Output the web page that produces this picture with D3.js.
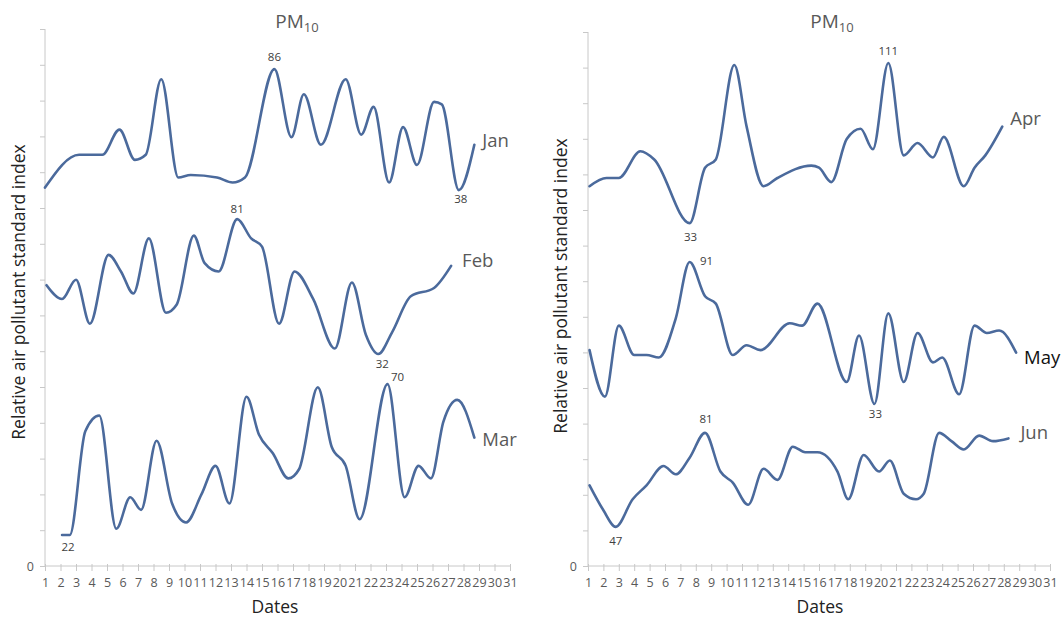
<!DOCTYPE html>
<html>
<head>
<meta charset="utf-8">
<script src="https://cdn.jsdelivr.net/npm/d3@7"></script>
<style>
  html, body { margin: 0; padding: 0; background: #fff; }
  svg { display: block; font-family: "Open Sans", "Lato", sans-serif; }
</style>
</head>
<body>
<svg id="chart" width="1063" height="617"></svg>
<script>
// ---- data: PM10 relative air pollutant standard index, by date ----
const dateTicks = d3.range(1, 32);
const yTickSteps = d3.range(0, 16);

const janDays   = [1.0, 3.2, 4.7, 5.8, 6.8, 7.5, 8.5, 9.6, 10.4, 12.1, 13.1, 13.9, 15.8, 16.9, 17.7, 18.8, 20.4, 21.4, 22.2, 23.2, 24.1, 25.0, 26.1, 26.6, 27.7, 28.7];
const janValues = [39, 52, 52, 62, 50, 52, 82, 43, 44, 43, 41, 43, 86, 59, 76, 56, 82, 60, 71, 41, 63, 48, 73, 72, 38, 56];

const febDays   = [1.1, 2.1, 3.0, 3.9, 5.1, 5.9, 6.7, 7.7, 8.8, 9.5, 10.6, 11.3, 12.2, 13.4, 14.3, 15.0, 16.1, 17.1, 18.3, 19.7, 20.8, 21.7, 22.5, 23.4, 24.6, 26.1, 27.2];
const febValues = [57, 52, 59, 43, 68, 62, 54, 74, 47, 50, 75, 65, 62, 81, 74, 71, 43, 62, 52, 34, 58, 39, 32, 40, 53, 56, 64];

const marDays   = [2.1, 2.6, 3.6, 4.5, 5.6, 6.5, 7.2, 8.2, 9.2, 10.1, 11.1, 12.0, 12.9, 14.0, 14.8, 15.7, 16.7, 17.4, 18.6, 19.5, 20.4, 21.3, 23.1, 24.2, 25.1, 25.9, 26.7, 27.6, 28.7];
const marValues = [22, 22, 55, 60, 24, 34, 30, 52, 32, 26, 35, 44, 32, 66, 54, 48, 40, 43, 69, 50, 44, 27, 70, 34, 44, 40, 58, 65, 53];

const aprDays   = [1.1, 2.2, 3.0, 4.4, 5.3, 7.6, 8.6, 9.3, 10.5, 11.3, 12.4, 13.3, 15.5, 16.0, 16.8, 17.8, 18.7, 19.5, 20.5, 21.5, 22.4, 23.4, 24.1, 25.4, 26.1, 26.8, 27.9];
const aprValues = [51, 55, 55, 68, 64, 33, 60, 64, 110, 80, 51, 55, 61, 60, 53, 74, 79, 69, 111, 66, 72, 65, 75, 51, 60, 66, 80];

const mayDays   = [1.1, 2.1, 3.0, 4.0, 4.8, 5.6, 6.7, 7.6, 8.6, 9.3, 10.4, 11.3, 12.2, 14.1, 14.9, 15.9, 17.8, 18.6, 19.6, 20.5, 21.5, 22.4, 23.4, 24.0, 25.1, 26.1, 26.9, 27.7, 28.8];
const mayValues = [55, 36, 65, 53, 53, 52, 68, 91, 77, 74, 53, 57, 55, 66, 65, 74, 42, 61, 33, 70, 42, 62, 50, 52, 37, 65, 62, 63, 54];

const junDays   = [1.1, 2.0, 2.8, 3.9, 4.8, 5.9, 6.7, 7.6, 8.6, 9.6, 10.4, 11.4, 12.4, 13.3, 14.3, 15.1, 15.9, 17.2, 17.9, 18.9, 19.9, 20.6, 21.5, 22.3, 22.8, 23.8, 24.6, 25.4, 26.4, 27.3, 28.3];
const junValues = [62, 53, 47, 57, 62, 69, 66, 72, 81, 67, 63, 55, 68, 64, 76, 74, 74, 67, 57, 73, 67, 71, 59, 57, 59, 81, 78, 75, 80, 78, 79];

const monthNames = ["Jan", "Feb", "Mar", "Apr", "May", "Jun"];
// values that carry a printed label on the curve
const notedValues = {Jan: [86, 38], Feb: [81, 32], Mar: [70, 22], Apr: [111, 33], May: [91, 33], Jun: [81, 47]};

const seriesData = {
  Jan: {days: janDays, values: janValues},
  Feb: {days: febDays, values: febValues},
  Mar: {days: marDays, values: marValues},
  Apr: {days: aprDays, values: aprValues},
  May: {days: mayDays, values: mayValues},
  Jun: {days: junDays, values: junValues}
};

// ---- layout ----
const lineColor = "#4b6a9c";
const axisColor = "#c8c8c8";
const textGray = "#595959";

const panels = [
  {x0: 45, x1: 510, yTop: 29, yBottom: 566, titleX: 297, ylabelX: 25, ylabelY: 292, datesX: 275,
   months: ["Jan", "Feb", "Mar"]},
  {x0: 588, x1: 1050, yTop: 32, yBottom: 566, titleX: 832, ylabelX: 567, ylabelY: 286, datesX: 820,
   months: ["Apr", "May", "Jun"]}
];

// each curve occupies its own band of the shared axis, expressed in tick steps:
// [low value, high value] -> [low step, high step]
const bands = {
  Jan: {dom: [38, 86], steps: [10.50, 13.88], nameDx: 8, nameDy: -4, nameColor: textGray},
  Feb: {dom: [32, 81], steps: [5.92, 9.69],  nameDx: 11, nameDy: -5, nameColor: textGray},
  Mar: {dom: [22, 70], steps: [0.866, 5.08], nameDx: 8, nameDy: 2, nameColor: textGray},
  Apr: {dom: [33, 111], steps: [9.63, 14.13], nameDx: 8, nameDy: -8, nameColor: textGray},
  May: {dom: [33, 91], steps: [4.55, 8.54],  nameDx: 8, nameDy: 5, nameColor: "#111"},
  Jun: {dom: [47, 81], steps: [1.10, 3.74],  nameDx: 12, nameDy: -6, nameColor: textGray}
};

// label offsets from the point they annotate
const noteOffsets = {
  "Jan-86": [0, -12], "Jan-38": [2, 9],
  "Feb-81": [0, -10], "Feb-32": [4, 10],
  "Mar-70": [10, -7], "Mar-22": [6, 12],
  "Apr-111": [0, -12], "Apr-33": [1, 14],
  "May-91": [17, -1], "May-33": [1, 10],
  "Jun-81": [1, -14], "Jun-47": [0, 14]
};

const svg = d3.select("#chart");

panels.forEach(p => {
  const g = svg.append("g");
  const x = d3.scaleLinear().domain([1, 31]).range([p.x0, p.x1]);
  const yStep = d3.scaleLinear().domain([0, 15]).range([p.yBottom, p.yTop]);

  // y axis: ticks only, with "0" at the origin
  const yAxis = d3.axisLeft(yStep).tickValues(yTickSteps).tickSize(5)
    .tickFormat(d => d === 0 ? "0" : "");
  const ya = g.append("g").attr("transform", `translate(${p.x0},0)`).call(yAxis);
  ya.select(".domain").attr("stroke", axisColor).attr("d", `M-0,${p.yBottom}V${p.yTop}`);
  ya.selectAll(".tick line").attr("stroke", axisColor);
  ya.selectAll(".tick text").attr("fill", textGray).attr("font-size", 12.5)
    .attr("font-family", "'Open Sans', sans-serif").attr("x", -11);

  // x axis: one tick per date
  const xAxis = d3.axisBottom(x).tickValues(dateTicks).tickSize(5).tickPadding(7);
  const xa = g.append("g").attr("transform", `translate(0,${p.yBottom})`).call(xAxis);
  xa.select(".domain").attr("stroke", axisColor).attr("d", `M${p.x0},0H${p.x1}`);
  xa.selectAll(".tick line").attr("stroke", axisColor).attr("y1", -2);
  xa.selectAll(".tick text").attr("fill", textGray).attr("font-size", 12.5)
    .attr("font-family", "'Open Sans', sans-serif");

  // title PM10
  const t = g.append("text").attr("x", p.titleX).attr("y", 28).attr("text-anchor", "middle")
    .attr("fill", textGray).attr("font-size", 19);
  t.append("tspan").text("PM");
  t.append("tspan").attr("font-size", 13).attr("dy", 4).text("10");

  // axis titles
  g.append("text")
    .attr("transform", `translate(${p.ylabelX},${p.ylabelY}) rotate(-90)`)
    .attr("text-anchor", "middle").attr("fill", "#222").attr("font-size", 17.5)
    .text("Relative air pollutant standard index");
  g.append("text").attr("x", p.datesX).attr("y", 613).attr("text-anchor", "middle")
    .attr("fill", "#222").attr("font-size", 17.5).text("Dates");

  // curves
  p.months.forEach(m => {
    const s = seriesData[m];
    const b = bands[m];
    const y = d3.scaleLinear().domain(b.dom).range(b.steps.map(v => yStep(v)));
    const pts = s.days.map((d, i) => ({day: d, value: s.values[i]}));
    const line = d3.line().x(d => x(d.day)).y(d => y(d.value)).curve(d3.curveMonotoneX);
    g.append("path").datum(pts).attr("d", line).attr("fill", "none")
      .attr("stroke", lineColor).attr("stroke-width", 2.6)
      .attr("stroke-linejoin", "round").attr("stroke-linecap", "round");

    // value labels
    notedValues[m].forEach(v => {
      const pt = pts.find(d => d.value === v);
      const off = noteOffsets[`${m}-${v}`];
      g.append("text").attr("x", x(pt.day) + off[0]).attr("y", y(pt.value) + off[1])
        .attr("dy", "0.35em").attr("text-anchor", "middle")
        .attr("fill", "#404040").attr("font-size", 11.5).text(v);
    });

    // month name at the end of the curve
    const last = pts[pts.length - 1];
    g.append("text").attr("x", x(last.day) + b.nameDx).attr("y", y(last.value) + b.nameDy)
      .attr("dy", "0.35em").attr("fill", b.nameColor).attr("font-size", 18.5).text(m);
  });
});
</script>
</body>
</html>
